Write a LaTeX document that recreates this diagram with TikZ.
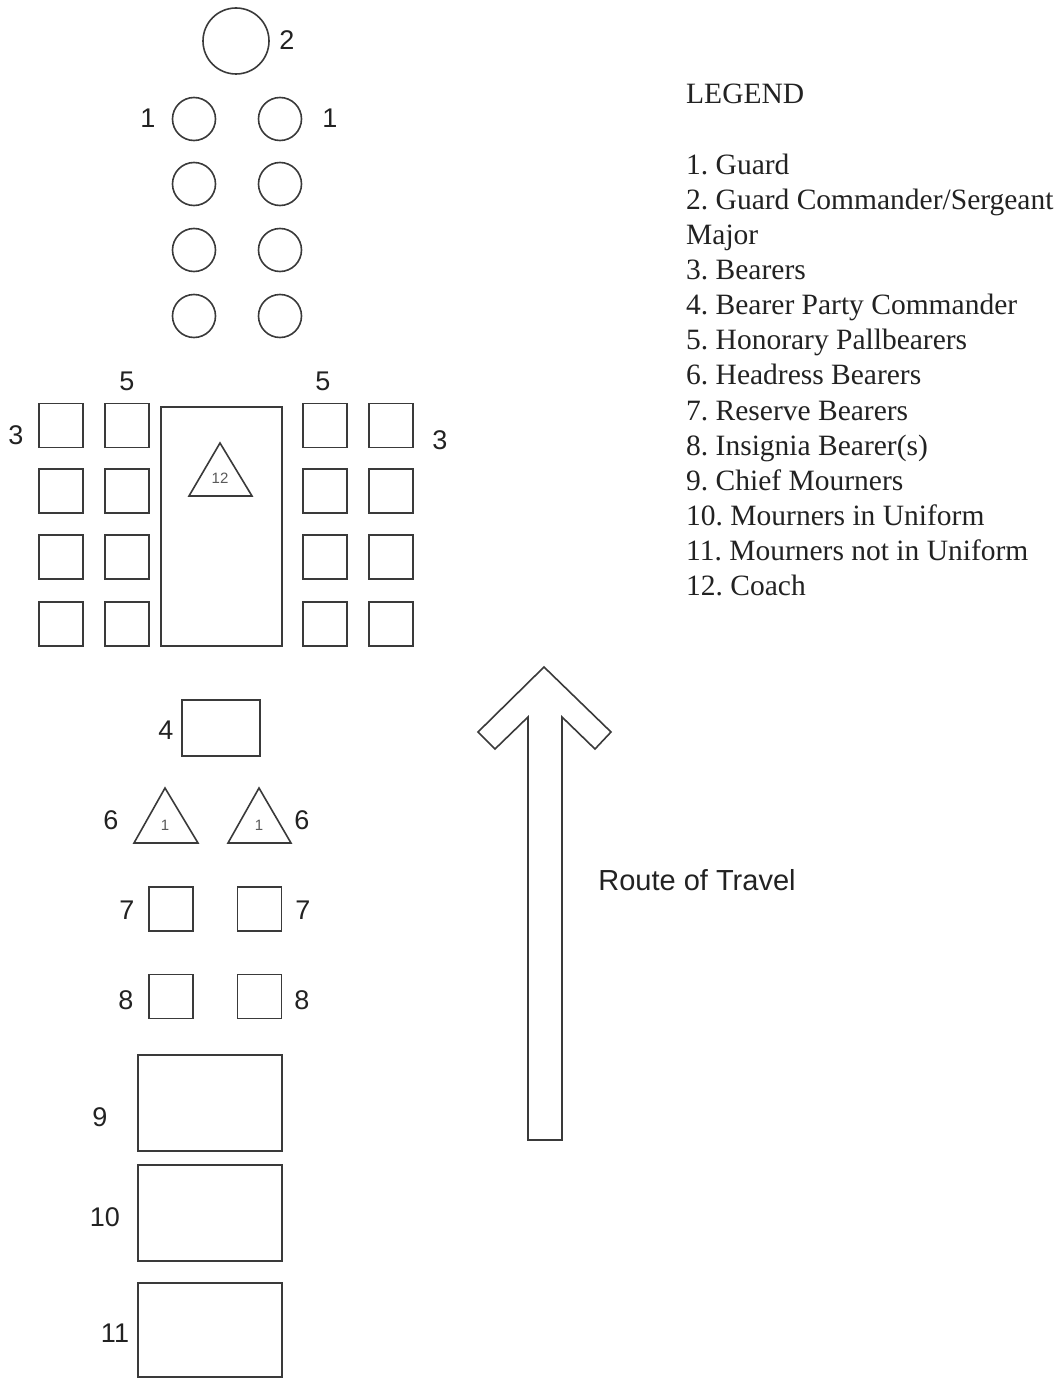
\documentclass[tikz,border=0pt]{standalone}
\usepackage{fontspec}
\setmainfont{Liberation Serif}
\newfontfamily\arialf{Liberation Sans}
\definecolor{lc}{HTML}{3A3A3A}
\definecolor{tc}{HTML}{222222}
\frenchspacing
\begin{document}
\begin{tikzpicture}[x=1pt,y=-1pt,
  shp/.style={draw=lc, line width=1.6pt, inner sep=0pt},
  gd/.style={shp, circle, minimum size=43pt},
  sq/.style={shp, rectangle, minimum width=44pt, minimum height=44pt},
  tri/.style={draw=lc, line width=1.6pt, line join=miter},
  lab/.style={font=\arialf\fontsize{27}{30}\selectfont, text=tc, inner sep=0pt},
  small/.style={font=\arialf\fontsize{15}{17}\selectfont, text=tc!75, inner sep=0pt},
  leg/.style={font=\frenchspacing\fontsize{29.5}{35}\selectfont, text=tc, inner sep=0pt, anchor=base west}]
\useasboundingbox (0,0) rectangle (1059,1378);
\fill[white] (0,0) rectangle (1059,1378);

% Guard commander and guards
\node[shp, circle, minimum size=66pt] (gc) at (236,41) {};
\node[lab] (l2) at (287,40) {2};
\foreach \r/\y in {1/119,2/184,3/250,4/316}{
  \node[gd] (gl\r) at (194,\y) {};
  \node[gd] (gr\r) at (280,\y) {};
}
\node[lab] (l1a) at (148,118) {1};
\node[lab] (l1b) at (330,118) {1};

% Bearers and honorary pallbearers
\foreach \r/\y in {1/425.5,2/491,3/557,4/624}{
  \node[sq] (ba\r) at (61,\y) {};
  \node[sq] (hb\r) at (127,\y) {};
  \node[sq] (hc\r) at (325,\y) {};
  \node[sq] (bd\r) at (391,\y) {};
}
\node[lab] (l5a) at (127,381) {5};
\node[lab] (l5b) at (323,381) {5};
\node[lab] (l3a) at (16,435) {3};
\node[lab] (l3b) at (440,440) {3};

% Coach
\node[shp, rectangle, minimum width=121pt, minimum height=239pt] (coach) at (221.5,526.5) {};
\draw[tri] (220,443) -- (189,496) -- (252,496) -- cycle;
\node[small] (l12) at (220,478) {12};

% Bearer party commander
\node[shp, rectangle, minimum width=78pt, minimum height=56pt] (bpc) at (221,728) {};
\node[lab] (l4) at (166,730) {4};

% Headdress bearers
\draw[tri] (165,788) -- (134,843) -- (198,843) -- cycle;
\draw[tri] (259,788) -- (228,843) -- (291,843) -- cycle;
\node[small] (h1a) at (165,825) {1};
\node[small] (h1b) at (259,825) {1};
\node[lab] (l6a) at (111,820) {6};
\node[lab] (l6b) at (302,820) {6};

% Reserve bearers
\node[sq] (rb1) at (171,909) {};
\node[sq] (rb2) at (259.5,909) {};
\node[lab] (l7a) at (127,910) {7};
\node[lab] (l7b) at (303,910) {7};

% Insignia bearers
\node[sq] (ib1) at (171,996.5) {};
\node[sq] (ib2) at (259.5,996.5) {};
\node[lab] (l8a) at (126,1000) {8};
\node[lab] (l8b) at (302,1000) {8};

% Mourners
\node[shp, rectangle, minimum width=144pt, minimum height=96pt] (cm) at (210,1103) {};
\node[shp, rectangle, minimum width=144pt, minimum height=96pt] (mu) at (210,1213) {};
\node[shp, rectangle, minimum width=144pt, minimum height=94pt] (mn) at (210,1330) {};
\node[lab] (l9) at (100,1117) {9};
\node[lab] (l10) at (105,1217) {10};
\node[lab] (l11) at (115,1333) {11};

% Route arrow
\draw[tri] (544,667) -- (611,732) -- (595,749) -- (562,717) -- (562,1140)
  -- (528,1140) -- (528,717) -- (495,749) -- (478,732) -- cycle;
\node[lab, font=\arialf\fontsize{29}{32}\selectfont] (route) at (697,880) {Route of Travel};

% Legend
\node[leg] (lg0) at (686,104) {LEGEND};
\foreach \i/\t in {0/{1. Guard},1/{2. Guard Commander/Sergeant},2/{Major},3/{3. Bearers},
  4/{4. Bearer Party Commander},5/{5. Honorary Pallbearers},6/{6. Headress Bearers},
  7/{7. Reserve Bearers},8/{8. Insignia Bearer(s)},9/{9. Chief Mourners},
  10/{10. Mourners in Uniform},11/{11. Mourners not in Uniform},12/{12. Coach}}{
  \node[leg] (lgi\i) at (686,{174+35.15*\i}) {\t};
}
\end{tikzpicture}
\end{document}
